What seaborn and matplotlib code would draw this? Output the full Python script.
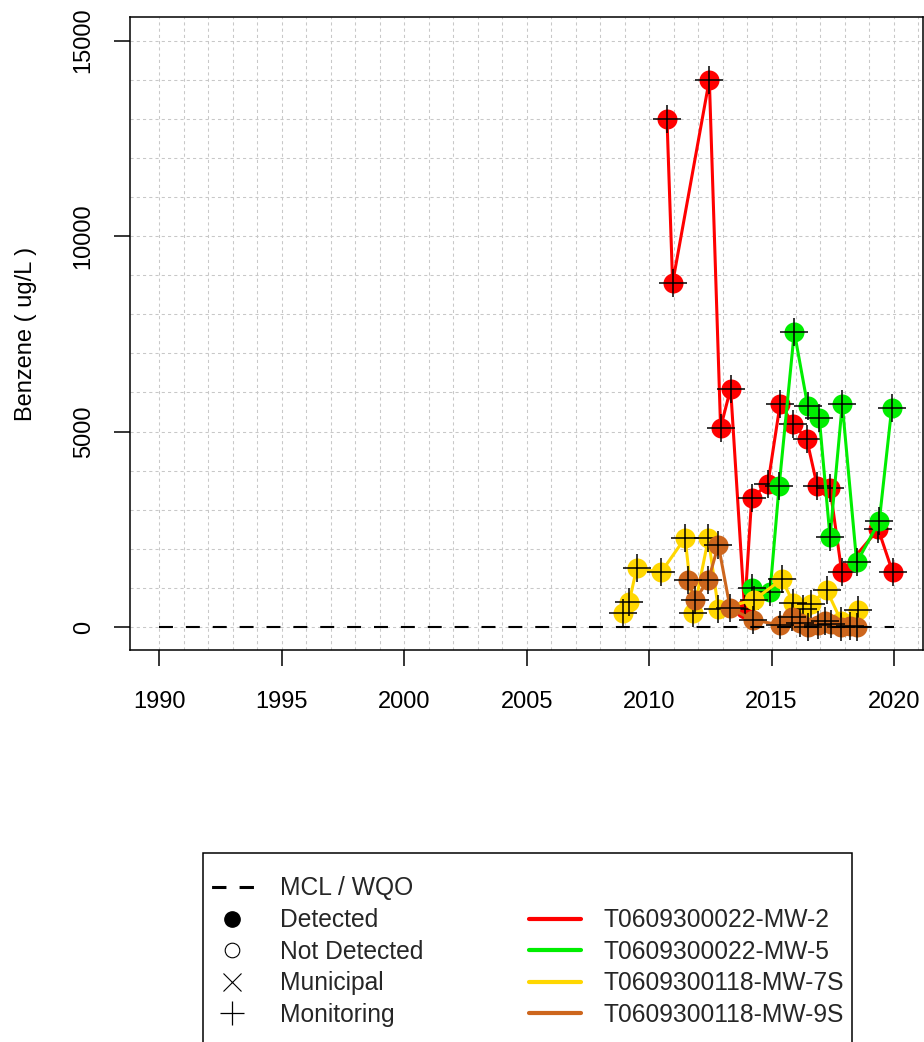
import matplotlib.pyplot as plt
import seaborn as sns
from matplotlib.lines import Line2D
from matplotlib.patches import Rectangle

# sampling dates (decimal years) and benzene results (ug/L) per well
mw2_year = [2010.73, 2010.96, 2012.46, 2012.92, 2013.33, 2013.90, 2014.19, 2014.85,
            2015.35, 2015.89, 2016.44, 2016.87, 2017.39, 2017.87, 2019.36, 2019.95]
mw2_val = [13000, 8800, 14000, 5100, 6100, 450, 3300, 3650,
           5700, 5200, 4800, 3600, 3550, 1400, 2500, 1400]

mw5_year = [2014.19, 2014.94, 2015.31, 2015.93, 2016.48, 2016.95, 2017.39, 2017.89,
            2018.48, 2019.40, 2019.91]
mw5_val = [1000, 900, 3600, 7550, 5650, 5350, 2300, 5700, 1650, 2700, 5600]

mw7s_year = [2008.95, 2009.19, 2009.49, 2010.49, 2011.47, 2011.81, 2012.42, 2012.83,
             2014.30, 2015.42, 2015.89, 2016.30, 2016.62, 2017.25, 2017.85, 2018.52]
mw7s_val = [350, 650, 1500, 1400, 2280, 350, 2270, 450,
            700, 1220, 620, 450, 600, 950, 150, 430]

mw9s_year = [2011.60, 2011.88, 2012.42, 2012.83, 2013.31, 2014.26, 2015.35, 2015.85,
             2016.17, 2016.50, 2016.90, 2017.20, 2017.45, 2017.85, 2018.20, 2018.50]
mw9s_val = [1200, 700, 1200, 2100, 480, 180, 50, 250,
            100, 0, 50, 150, 80, 0, 20, 10]

wells = ["T0609300022-MW-2", "T0609300022-MW-5", "T0609300118-MW-7S", "T0609300118-MW-9S"]
well_colors = ["#FF0000", "#00EE00", "#FFD700", "#CD661D"]

mcl_years = [1990, 2020]
mcl_value = [1, 1]

x_ticks = [1990, 1995, 2000, 2005, 2010, 2015, 2020]
y_ticks = [0, 5000, 10000, 15000]

sns.set_theme(style="white")
plt.rcParams["font.family"] = ["Liberation Sans", "DejaVu Sans"]

fig = plt.figure(figsize=(9.24, 10.42), dpi=100)
ax = fig.add_axes([130.1 / 924, 1 - 650.45 / 1042, 793.2 / 924, (650.45 - 17.2) / 1042])

series = [(mw2_year, mw2_val), (mw5_year, mw5_val), (mw7s_year, mw7s_val), (mw9s_year, mw9s_val)]
for i, ((yrs, vals), col) in enumerate(zip(series, well_colors)):
    sns.lineplot(x=yrs, y=vals, color=col, marker="o", markersize=14.4, markeredgewidth=0,
                 linewidth=2.2, estimator=None, sort=False, ax=ax, zorder=3 + 2 * i)
    sns.scatterplot(x=yrs, y=vals, marker="+", s=380, color="black", linewidth=1.1,
                    ax=ax, zorder=4 + 2 * i)

ax.plot(mcl_years, mcl_value, color="black", linewidth=1.5, linestyle=(0, (6.7, 6.2)), zorder=20)

ax.set_xlim(1988.8, 2021.2)
ax.set_ylim(-600, 15600)
ax.set_xticks(x_ticks)
ax.set_xticklabels([str(t) for t in x_ticks])
ax.set_yticks(y_ticks)
ax.set_yticklabels([str(t) for t in y_ticks], rotation=90, va="center")
ax.set_xticks(range(1990, 2022), minor=True)
ax.set_yticks(range(0, 15001, 1000), minor=True)
ax.grid(which="both", color="#C8C8C8", linestyle=(0, (3, 3)), linewidth=0.75)
ax.set_axisbelow(True)

ax.tick_params(axis="both", which="major", direction="out", length=11.5, width=1.1,
               color="black", labelsize=17, labelcolor="black")
ax.tick_params(axis="x", which="major", pad=17.5, bottom=True)
ax.tick_params(axis="y", which="major", pad=14, left=True)
ax.tick_params(which="minor", length=0)
for s in ax.spines.values():
    s.set_color("black")
    s.set_linewidth(1.1)

ax.set_xlabel("")
ax.set_ylabel("Benzene ( ug/L )", fontsize=17, color="black")
ax.yaxis.set_label_coords((37 - 130.1) / 793.2, 0.5)

# legend
handles = [
    Line2D([], [], color="black", linewidth=2.2, linestyle=(7.5, (4.7, 4.3))),
    Line2D([], [], color="black", linestyle="none", marker="o", markersize=11),
    Line2D([], [], color="black", linestyle="none", marker="o", markersize=10.5,
           markerfacecolor="white", markeredgewidth=0.8),
    Line2D([], [], color="black", linestyle="none", marker="x", markersize=13, markeredgewidth=0.8),
    Line2D([], [], color="black", linestyle="none", marker="+", markersize=17, markeredgewidth=0.9),
    Line2D([], [], linestyle="none"),
] + [Line2D([], [], color=c, linewidth=3) for c in well_colors]
labels = ["MCL / WQO", "Detected", "Not Detected", "Municipal", "Monitoring", ""] + wells

ax.legend(handles, labels, loc="upper left", bbox_to_anchor=(206.5 / 924, 1 - 876.5 / 1042),
          bbox_transform=fig.transFigure, ncol=2, frameon=False, borderpad=0, borderaxespad=0,
          handlelength=2.1, handletextpad=0.9, columnspacing=4.3, labelspacing=0.31,
          fontsize=17.7)
fig.add_artist(Rectangle((203 / 924, -0.02), (852 - 203) / 924, 0.02 + 1 - 853 / 1042,
                         transform=fig.transFigure, fill=False, edgecolor="black", linewidth=1.1))

fig.savefig("out.png", dpi=100, facecolor="white")
